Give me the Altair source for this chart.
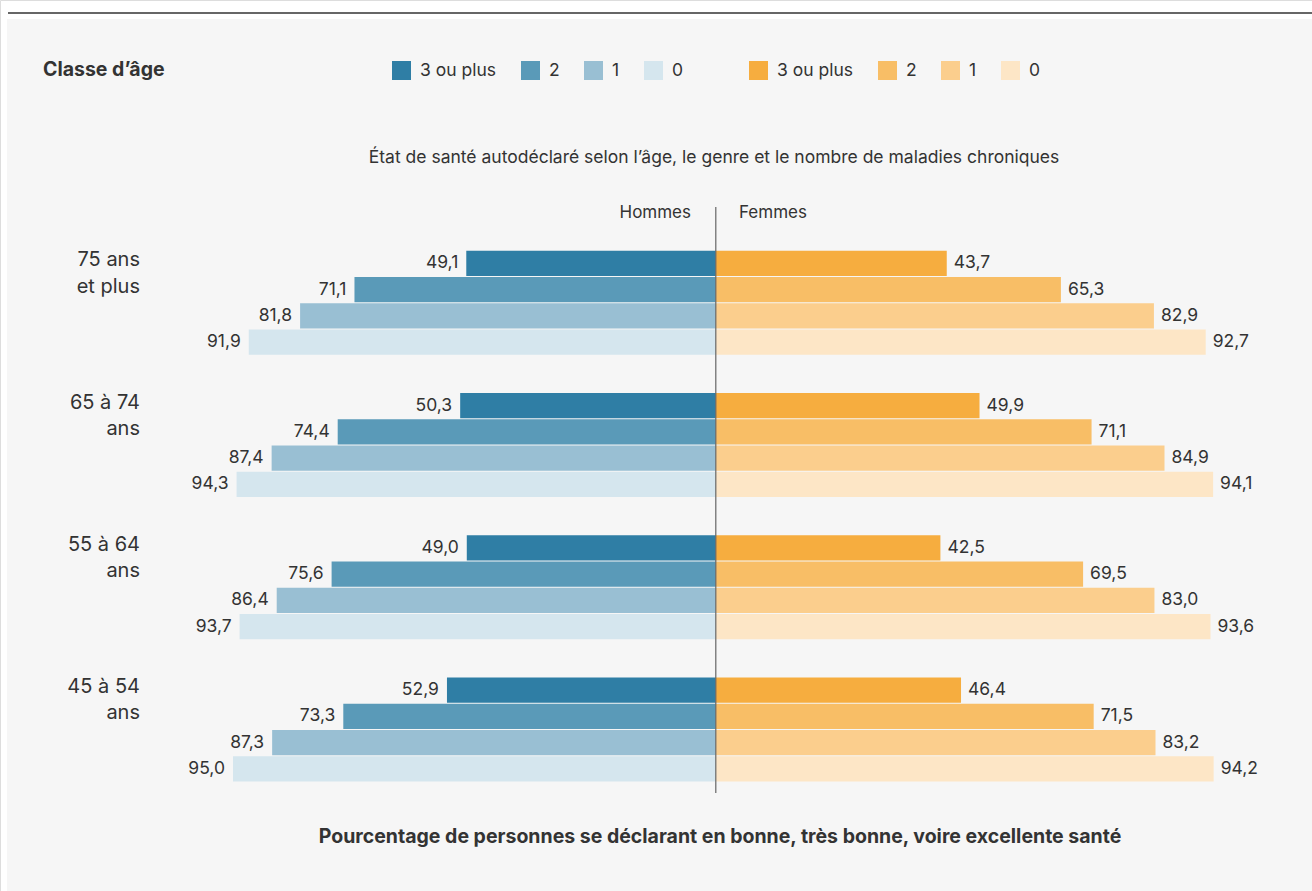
import altair as alt
import pandas as pd

# ---- data ----
ages = ["75 ans et plus", "65 à 74 ans", "55 à 64 ans", "45 à 54 ans"]
age_line1 = ["75 ans", "65 à 74", "55 à 64", "45 à 54"]
age_line2 = ["et plus", "ans", "ans", "ans"]
cats = ["3 ou plus", "2", "1", "0"]

hommes_75 = [49.1, 71.1, 81.8, 91.9]
hommes_65 = [50.3, 74.4, 87.4, 94.3]
hommes_55 = [49.0, 75.6, 86.4, 93.7]
hommes_45 = [52.9, 73.3, 87.3, 95.0]

femmes_75 = [43.7, 65.3, 82.9, 92.7]
femmes_65 = [49.9, 71.1, 84.9, 94.1]
femmes_55 = [42.5, 69.5, 83.0, 93.6]
femmes_45 = [46.4, 71.5, 83.2, 94.2]

blues = ["#2f7ea5", "#5a9ab8", "#99bfd3", "#d5e6ee"]
oranges = ["#f6ad3f", "#f8be66", "#fbce8d", "#fde6c6"]

title_text = ["État de santé autodéclaré selon l’âge, le genre et le nombre de maladies chroniques"]
x_title = ["Pourcentage de personnes se déclarant en bonne, très bonne, voire excellente santé"]
legend_title = ["Classe d’âge"]
side_labels = ["Hommes", "Femmes"]

TXT = "#333333"
FONT_NUM = "Inter"
FONT_TXT = "Inter"


def make_df(series):
    rows = []
    for age, vals in zip(ages, series):
        for c, v in zip(cats, vals):
            rows.append({"age": age, "cat": c, "v": v,
                         "lab": f"{v:.1f}".replace(".", ",")})
    return pd.DataFrame(rows)


men = make_df([hommes_75, hommes_65, hommes_55, hommes_45])
women = make_df([femmes_75, femmes_65, femmes_55, femmes_45])

age_rows = []
for a, l1, l2 in zip(ages, age_line1, age_line2):
    age_rows.append({"age": a, "cat": cats[0], "lab": l1})
    age_rows.append({"age": a, "cat": cats[1], "lab": l2})
age_df = pd.DataFrame(age_rows)

one = pd.DataFrame({"k": [0]})

# ---- scales ----
Y = alt.Y("age:N", sort=ages, axis=None,
          scale=alt.Scale(domain=ages, range=[231.5, 800.7],
                          paddingInner=0.269, paddingOuter=0.1346))
YO = alt.YOffset("cat:N", sort=cats,
                 scale=alt.Scale(domain=cats, paddingInner=0.038))
X_MEN = alt.X("v:Q", axis=None,
              scale=alt.Scale(domain=[0, 100], range=[715.8, 207.6]))
X_WOMEN = alt.X("v:Q", axis=None,
                scale=alt.Scale(domain=[0, 100], range=[715.8, 1244.3]))


def legend(x):
    return alt.Legend(orient="none", legendX=x, legendY=61, direction="horizontal",
                      title=None, symbolType="square", symbolSize=361,
                      symbolStrokeWidth=0, symbolOpacity=1, labelFontSize=17.5,
                      labelFont=FONT_TXT, labelColor=TXT, labelOffset=9,
                      columnPadding=24, padding=0)


bg = alt.Chart(one).mark_rect(color="#f6f6f6").encode(
    x=alt.value(7), x2=alt.value(1312), y=alt.value(19), y2=alt.value(891))
topline = alt.Chart(one).mark_rule(color="#333333", strokeWidth=1.5).encode(
    x=alt.value(8), x2=alt.value(1312), y=alt.value(13))

men_bars = alt.Chart(men).mark_bar(cornerRadius=0).encode(
    x=X_MEN, y=Y, yOffset=YO,
    color=alt.Color("cat:N", sort=cats, scale=alt.Scale(domain=cats, range=blues),
                    legend=legend(392)))
men_text = alt.Chart(men).mark_text(align="right", baseline="middle", dx=-8,
                                    font=FONT_NUM, fontSize=17.5, color=TXT).encode(
    x=X_MEN, y=Y, yOffset=YO, text="lab:N")

women_bars = alt.Chart(women).mark_bar(cornerRadius=0).encode(
    x=X_WOMEN, y=Y, yOffset=YO,
    color=alt.Color("cat:N", sort=cats, scale=alt.Scale(domain=cats, range=oranges),
                    legend=legend(749)))
women_text = alt.Chart(women).mark_text(align="left", baseline="middle", dx=7,
                                        font=FONT_NUM, fontSize=17.5, color=TXT).encode(
    x=X_WOMEN, y=Y, yOffset=YO, text="lab:N")

age_text = alt.Chart(age_df).mark_text(align="right", baseline="middle", dy=-3,
                                       font=FONT_NUM, fontSize=20, color=TXT).encode(
    x=alt.value(140), y=Y, yOffset=YO, text="lab:N")

center = alt.Chart(one).mark_rule(color="#666666", strokeWidth=1.2).encode(
    x=alt.value(715.8), y=alt.value(207), y2=alt.value(793))

title = alt.Chart(pd.DataFrame({"t": title_text})).mark_text(
    align="center", baseline="middle", font=FONT_TXT, fontSize=17.5, color=TXT).encode(
    x=alt.value(714), y=alt.value(158), text="t:N")

hommes = alt.Chart(pd.DataFrame({"t": side_labels[:1]})).mark_text(
    align="right", baseline="middle", font=FONT_TXT, fontSize=17, color=TXT).encode(
    x=alt.value(691), y=alt.value(213), text="t:N")
femmes = alt.Chart(pd.DataFrame({"t": side_labels[1:]})).mark_text(
    align="left", baseline="middle", font=FONT_TXT, fontSize=17, color=TXT).encode(
    x=alt.value(739), y=alt.value(213), text="t:N")

bottom = alt.Chart(pd.DataFrame({"t": x_title})).mark_text(
    align="center", baseline="middle", font=FONT_TXT, fontSize=19.5,
    fontWeight="bold", color=TXT).encode(
    x=alt.value(720), y=alt.value(837), text="t:N")

classe = alt.Chart(pd.DataFrame({"t": legend_title})).mark_text(
    align="left", baseline="middle", font=FONT_TXT, fontSize=19.5,
    fontWeight="bold", color=TXT).encode(
    x=alt.value(43), y=alt.value(70), text="t:N")

chart = alt.layer(
    bg, topline, men_bars, men_text, women_bars, women_text, age_text,
    center, title, hommes, femmes, bottom, classe
).resolve_scale(
    x="independent", color="independent"
).properties(
    width=1312, height=891,
    autosize=alt.AutoSizeParams(type="none"), padding=0
).configure_view(stroke="transparent").configure(background="white")

chart.save("out.html", embed_options={"renderer": "svg", "actions": False})
